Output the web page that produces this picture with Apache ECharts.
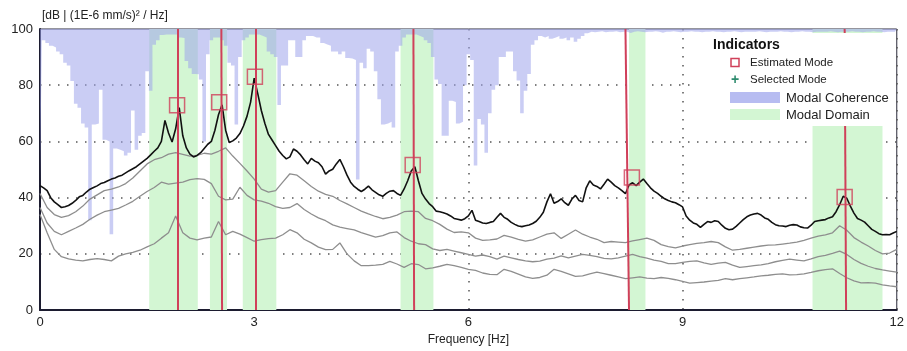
<!DOCTYPE html>
<html>
<head>
<meta charset="utf-8">
<script src="https://cdn.jsdelivr.net/npm/echarts@6/dist/echarts.min.js"></script>
<style>
html,body{margin:0;padding:0;background:#fff;}
#chart{width:907px;height:351px;}
</style>
</head>
<body>
<div id="chart"></div>
<script>
// ---------- DATA ----------
var xTicks = [0, 3, 6, 9, 12];
var yTicks = [0, 20, 40, 60, 80, 100];

// Frequency grids (Hz)
var fineStep = 0.05;   // black curve & coherence
var coarseStep = 0.1;  // grey curves

// Black PSD curve, dB, every 0.05 Hz from 0 to 12
var psdMain = [
44.3,43.5,42.5,40.0,38.5,37.5,36.5,36.8,37.2,38.0,39.0,40.3,40.8,42.0,43.0,43.6,44.2,45.0,45.4,46.0,
46.6,47.0,47.6,48.0,48.8,49.6,50.3,51.0,52.0,53.0,54.0,55.2,56.5,57.7,60.0,67.5,63.0,59.8,64.5,72.0,
62.0,57.7,55.5,54.5,55.0,56.0,57.5,59.0,60.0,64.0,69.5,73.0,64.0,59.6,60.2,61.2,62.8,65.5,69.0,74.0,
82.5,77.0,71.0,66.4,62.5,60.5,58.5,56.5,55.0,53.8,54.5,57.3,56.5,55.2,53.5,52.0,54.0,53.0,52.4,51.0,
48.4,49.5,50.1,52.0,53.6,51.0,48.0,45.5,44.0,43.0,42.2,43.0,44.1,42.8,41.9,41.0,40.5,41.5,42.3,42.5,
41.5,40.8,43.1,46.0,49.5,51.0,46.0,41.5,39.5,37.9,36.8,35.2,35.0,34.6,34.2,33.5,32.6,32.3,32.0,32.5,
33.5,35.5,32.0,31.5,31.0,30.8,31.2,31.5,33.0,34.4,33.0,32.3,31.2,30.5,29.9,29.7,30.0,30.3,30.8,31.6,
33.0,34.8,38.5,41.4,38.0,38.6,39.6,38.2,37.3,39.5,40.8,39.0,38.5,43.5,46.0,44.5,44.0,43.1,44.8,46.6,
45.5,44.3,43.5,42.5,41.4,44.5,45.3,44.3,45.5,46.6,45.0,43.5,42.3,41.5,40.5,39.6,39.0,38.5,38.2,37.5,
36.7,33.5,32.0,31.0,30.5,29.4,30.5,31.5,31.2,31.8,31.5,30.2,29.1,28.6,28.8,29.8,31.0,32.2,33.2,33.8,
34.2,34.4,33.8,32.8,32.3,31.2,30.4,30.0,29.9,29.7,30.2,30.4,30.3,29.6,29.3,29.2,30.2,31.5,31.8,32.0,
32.2,32.8,33.2,35.0,37.5,40.5,39.8,37.0,34.5,32.6,32.0,31.3,30.0,28.7,28.0,27.2,26.8,26.9,26.8,27.4,
28.0
];

// Modal coherence lower edge (scaled 0..100), every 0.05 Hz
var coherence = [
44,96,95,94,93.4,92,91,88,87,81.5,73.4,72,66.4,65,32,66,66.4,78.4,60.6,60,
27,57.5,57,56.5,55,56,71,57,62,63,85,78,94.4,96,97.9,98,98,98,98,97,
96.8,88.6,86,84,83.9,82,60,91,96,97,97,96,94,88,87,66,90,96,97,98,
98,98,97.5,97,92,91,90,73,87,87,96,96,90,90,96,97.5,97.5,97,97,95,
94.5,94,92,92,91,92,89.7,89.5,89,46.5,88,86,93,92,85,75,66,66.4,67,65,
92,94,97,98,98,98,97.5,97,96,95,90,82,80.4,62,62,74.5,74,66.4,67,80,
91,89,51.4,68,66,56,70,78.4,80,90,90,92,92,85,81.7,70,78,84,94.4,96,
97.5,97,97.5,96.5,97,97.5,96.5,97,96,97,95.5,96.5,97.5,98.5,99,98.8,99,99.2,98.8,99,
99,99.2,98.8,99,99,98.6,99,99.2,99,98.8,99,99,99.2,99,98.7,99,99,99.2,99,98.8,
99,99,99.2,99,99,98.8,99,99,99.2,99,99,98.8,99,99,99.2,99,98.8,99,99,99,
99,99.2,99,98.8,99,99,99,99.2,99,99,98.8,99,99,99.2,99,99,98.8,99,99,99,
99,99.2,99,98.8,99,99,99,99.2,99,99,98.8,99,99,99.2,99,99,98.8,99,99,99,99
];

// Grey PSD curves, every 0.1 Hz
var psdGrey1 = [
41.5,36.5,34.0,33.0,33.6,35.0,37.0,39.5,41.0,42.5,
43.0,43.8,45.0,47.0,49.5,52.0,53.5,54.2,55.5,56.0,
55.4,54.8,55.0,55.8,55.5,56.5,57.7,54.8,52.2,49.5,
46.6,43.0,42.0,42.5,45.5,48.5,48.0,46.0,44.0,42.3,
41.2,40.5,39.0,37.8,36.5,35.2,34.2,33.3,32.5,33.0,
33.8,35.0,35.2,35.0,32.6,31.8,30.5,28.8,27.6,27.8,
27.5,25.6,24.8,25.0,25.3,26.6,26.0,25.2,24.5,25.0,
26.0,27.0,27.5,25.5,27.0,28.5,27.0,26.0,25.2,24.0,
24.4,24.2,24.0,24.6,25.1,25.6,24.8,23.3,22.6,22.1,
22.8,23.3,23.7,24.0,24.4,24.0,22.5,21.3,21.6,22.0,
22.4,22.8,23.1,23.2,23.5,23.8,24.2,24.8,25.6,26.3,
26.8,27.5,30.0,28.4,25.8,24.2,22.8,21.2,20.0,20.3,
21.6
];
var psdGrey2 = [
36.5,31.0,28.0,26.8,28.0,29.2,30.5,32.3,33.8,35.0,
35.6,36.2,37.4,38.7,40.5,42.2,43.6,45.5,44.8,45.2,
45.5,46.4,46.8,46.5,45.0,40.5,39.2,39.5,43.7,40.8,
39.2,38.8,38.0,36.8,36.2,36.5,37.9,35.8,34.2,32.8,
31.8,30.3,29.5,29.0,28.5,27.6,26.8,26.0,26.5,27.5,
27.8,25.8,24.5,23.6,23.3,21.8,21.2,21.6,21.0,20.4,
19.8,19.2,19.6,19.0,18.1,19.2,18.6,18.0,17.5,17.2,
17.4,18.1,18.5,19.3,18.6,19.2,19.8,19.5,19.0,18.4,
18.2,18.6,19.2,19.8,19.0,18.5,17.8,17.3,16.5,16.5,
17.0,17.3,17.5,16.8,16.3,16.7,17.0,16.0,15.2,15.5,
15.8,16.1,16.5,17.2,17.7,18.1,17.8,17.5,18.2,19.0,
19.5,20.2,21.0,19.8,18.0,16.6,15.6,14.8,14.3,13.9,
13.5
];
var psdGrey3 = [
34.0,27.5,21.6,19.0,18.2,17.8,17.5,18.0,18.3,18.0,
17.5,19.2,20.0,20.5,21.3,22.5,23.6,25.6,27.5,33.5,
27.5,25.6,25.0,25.6,26.0,31.5,26.8,28.0,27.0,25.8,
24.5,25.1,25.4,25.6,26.8,28.6,27.5,25.2,23.9,22.4,
21.5,21.6,23.9,20.0,17.5,15.8,15.8,16.0,16.3,17.3,
16.4,15.2,16.5,16.2,14.7,15.0,15.6,16.3,15.8,15.2,
14.5,14.1,13.2,12.7,12.6,14.5,13.8,12.8,11.8,11.3,
11.6,12.4,14.5,13.8,12.9,12.0,12.2,12.9,13.5,13.0,
12.4,11.8,11.2,11.5,11.8,11.4,11.2,11.6,11.3,10.8,
10.2,9.6,9.8,10.0,10.3,10.6,11.2,10.8,11.2,11.5,
11.8,12.2,12.4,12.7,12.9,12.5,12.6,12.9,13.4,14.0,
14.4,14.7,13.0,11.5,10.4,9.7,9.8,9.6,9.0,8.6,
8.3
];

// Estimated modes
var modeFreq  = [1.92, 2.51, 3.01, 5.22, 8.29, 11.27];
var modeLevel = [72.9, 73.9, 83.0, 51.6, 47.2, 40.2];
// Mode indicator lines (frequency at top / bottom of the plot)
var modeLineTop    = [1.93, 2.54, 3.02, 5.23, 8.20, 11.27];
var modeLineBottom = [1.93, 2.55, 3.02, 5.24, 8.25, 11.29];

// Modal domains (Hz)
var domainStart = [1.53, 2.38, 2.84, 5.05, 8.25, 10.82];
var domainEnd   = [2.21, 2.62, 3.31, 5.51, 8.48, 11.80];

// ---------- BUILD ----------
function pairs(step, arr){ return arr.map(function(v,i){ return [+(i*step).toFixed(3), v]; }); }

var markAreaData = domainStart.map(function(s,i){ return [{xAxis:s},{xAxis:domainEnd[i]}]; });
var markLineData = modeLineTop.map(function(t,i){ return [{coord:[t,100]},{coord:[modeLineBottom[i],0]}]; });
var modePoints = modeFreq.map(function(f,i){ return [f, modeLevel[i]]; });

var FONT = 'Liberation Sans, Arial, sans-serif';
var RED = '#d0405a';
var BLUE = '#b7bcf1';
var GREEN = '#d3f6d3';

var chart = echarts.init(document.getElementById('chart'), null, {renderer:'canvas'});
var option = {
  animation: false,
  grid: {left:40, right:9, top:29, bottom:36, show:true, borderColor:'#2a2a3a', borderWidth:1, backgroundColor:'#fff'},
  xAxis: {
    type:'value', min:0, max:12, interval:3,
    axisLine:{show:true, onZero:false, lineStyle:{color:'#1c1c30', width:2}},
    axisTick:{show:false},
    axisLabel:{color:'#222', fontSize:13, fontFamily:FONT, margin:6,
      formatter:function(v){ return xTicks.indexOf(v)>=0 ? String(v) : ''; }},
    splitLine:{show:true, lineStyle:{color:'#555', type:[1.5,7.5], width:1.5}},
    name:'Frequency [Hz]', nameLocation:'middle', nameGap:21,
    nameTextStyle:{color:'#222', fontSize:12, fontFamily:FONT}
  },
  yAxis: {
    type:'value', min:0, max:100, interval:20,
    axisLine:{show:true, lineStyle:{color:'#1c1c30', width:2}},
    axisTick:{show:false},
    axisLabel:{color:'#222', fontSize:13, fontFamily:FONT, margin:7,
      formatter:function(v){ return yTicks.indexOf(v)>=0 ? String(v) : ''; }},
    splitLine:{show:true, showMinLine:false, showMaxLine:false, lineStyle:{color:'#555', type:[1.5,7.5], width:1.5}},
    name:'[dB | (1E-6 mm/s)\u00b2 / Hz]', nameLocation:'end', nameGap:7,
    nameTextStyle:{color:'#222', fontSize:12, fontFamily:FONT, align:'left', padding:[0,0,0,2]}
  },
  series: [
    { name:'Modal Domain', type:'line', data:[], z:1, silent:true,
      markArea:{silent:true, itemStyle:{color:GREEN}, data:markAreaData} },
    { name:'Modal Coherence', type:'line', step:'middle', data:pairs(fineStep, coherence), z:2,
      symbol:'none', silent:true, lineStyle:{width:0},
      areaStyle:{origin:'end', color:'rgba(158,164,234,0.78)'} },
    { type:'line', data:pairs(coarseStep, psdGrey3), z:3, symbol:'none', lineStyle:{color:'#8e8e8e', width:1.3} },
    { type:'line', data:pairs(coarseStep, psdGrey2), z:3, symbol:'none', lineStyle:{color:'#8e8e8e', width:1.3} },
    { type:'line', data:pairs(coarseStep, psdGrey1), z:3, symbol:'none', lineStyle:{color:'#8e8e8e', width:1.3} },
    { type:'line', data:pairs(fineStep, psdMain), z:4, symbol:'none', lineStyle:{color:'#111', width:1.6} },
    { name:'Estimated Mode', type:'scatter', data:modePoints, z:6, symbol:'rect', symbolSize:15,
      itemStyle:{color:'rgba(0,0,0,0)', borderColor:RED, borderWidth:1.5},
      markLine:{silent:true, symbol:['none','none'], label:{show:false},
        lineStyle:{color:RED, width:2, type:'solid'}, data:markLineData} }
  ],
  graphic: [
    {type:'rect', z:100, shape:{x:697, y:33, width:199, height:93}, style:{fill:'#fff'}},
    {type:'text', z:101, x:713, y:45, style:{text:'Indicators', font:'bold 14px '+FONT, fill:'#111', textVerticalAlign:'middle'}},
    {type:'rect', z:101, shape:{x:731, y:58.5, width:8, height:8}, style:{fill:'none', stroke:RED, lineWidth:1.5}},
    {type:'text', z:101, x:750, y:63, style:{text:'Estimated Mode', font:'11.5px '+FONT, fill:'#222', textVerticalAlign:'middle'}},
    {type:'text', z:101, x:735, y:80, style:{text:'+', font:'bold 14px '+FONT, fill:'#2e8b6e', textAlign:'center', textVerticalAlign:'middle'}},
    {type:'text', z:101, x:750, y:80, style:{text:'Selected Mode', font:'11.5px '+FONT, fill:'#222', textVerticalAlign:'middle'}},
    {type:'rect', z:101, shape:{x:730, y:92, width:50, height:11}, style:{fill:BLUE}},
    {type:'text', z:101, x:786, y:98, style:{text:'Modal Coherence', font:'13px '+FONT, fill:'#222', textVerticalAlign:'middle'}},
    {type:'rect', z:101, shape:{x:730, y:109, width:50, height:11}, style:{fill:GREEN}},
    {type:'text', z:101, x:786, y:115, style:{text:'Modal Domain', font:'13px '+FONT, fill:'#222', textVerticalAlign:'middle'}}
  ]
};
chart.setOption(option);
</script>
</body>
</html>
